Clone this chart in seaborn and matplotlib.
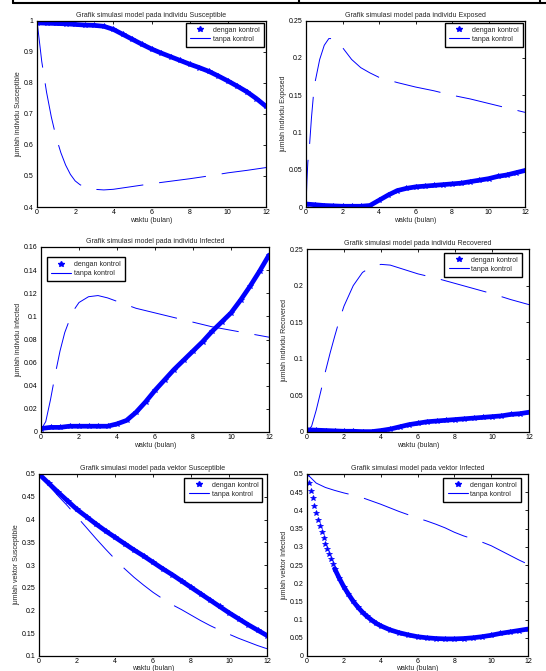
import numpy as np
import matplotlib
matplotlib.use('Agg')
import matplotlib.pyplot as plt
import seaborn as sns
from matplotlib.lines import Line2D
from matplotlib.ticker import FuncFormatter

# ---------------- data ----------------
t_half = [0, 0.5, 1, 1.5, 2, 2.5, 3, 3.5, 4, 4.5, 5, 5.5, 6, 6.5, 7, 7.5,
          8, 8.5, 9, 9.5, 10, 10.5, 11, 11.5, 12]

# individu Susceptible
sh_dk = [0.993, 0.992, 0.991, 0.99, 0.988, 0.986, 0.985, 0.982, 0.972, 0.956,
         0.94, 0.924, 0.909, 0.896, 0.884, 0.872, 0.86, 0.849, 0.837, 0.822,
         0.806, 0.789, 0.771, 0.749, 0.724]
sh_t_tk = [0, 0.25, 0.5, 0.75, 1, 1.25, 1.5, 1.75, 2, 2.25, 2.5, 3, 3.5, 4,
           5, 6, 7, 8, 9, 10, 11, 12]
sh_tk = [1.0, 0.868, 0.77, 0.69, 0.625, 0.575, 0.535, 0.505, 0.484, 0.472,
         0.464, 0.457, 0.455, 0.457, 0.466, 0.475, 0.483, 0.491, 0.5, 0.51,
         0.518, 0.527]

# individu Exposed
eh_dk = [0.004, 0.003, 0.002, 0.0015, 0.001, 0.001, 0.001, 0.002, 0.009,
         0.016, 0.022, 0.025, 0.027, 0.028, 0.029, 0.03, 0.031, 0.032, 0.034,
         0.036, 0.038, 0.041, 0.043, 0.046, 0.049]
eh_t_tk = [0, 0.05, 0.1, 0.2, 0.3, 0.4, 0.5, 0.75, 1, 1.25, 1.5, 1.75, 2, 2.5,
           3, 3.5, 4, 5, 6, 7, 8, 9, 10, 11, 12]
eh_tk = [0, 0.035, 0.06, 0.085, 0.12, 0.148, 0.168, 0.198, 0.217, 0.226,
         0.226, 0.221, 0.214, 0.198, 0.187, 0.18, 0.174, 0.167, 0.161, 0.156,
         0.15, 0.145, 0.139, 0.133, 0.127]

# individu Infected
ih_dk = [0.003, 0.004, 0.004, 0.005, 0.005, 0.005, 0.005, 0.005, 0.007, 0.01,
         0.017, 0.026, 0.036, 0.045, 0.054, 0.062, 0.07, 0.078, 0.087, 0.095,
         0.103, 0.114, 0.126, 0.139, 0.153]
ih_t_tk = [0, 0.25, 0.5, 0.75, 1, 1.25, 1.5, 1.75, 2, 2.5, 3, 3.5, 4, 5, 6, 7,
           8, 9, 10, 11, 12]
ih_tk = [0.002, 0.009, 0.028, 0.05, 0.07, 0.086, 0.097, 0.106, 0.112, 0.117,
         0.118, 0.116, 0.113, 0.107, 0.103, 0.099, 0.095, 0.091, 0.088, 0.085,
         0.082]

# individu Recovered
rh_dk = [0.003, 0.0025, 0.002, 0.0015, 0.001, 0.001, 0.0005, 0.0005, 0.002,
         0.004, 0.007, 0.01, 0.012, 0.014, 0.015, 0.016, 0.017, 0.018, 0.019,
         0.02, 0.021, 0.022, 0.024, 0.025, 0.027]
rh_t_tk = [0, 0.25, 0.5, 0.75, 1, 1.25, 1.5, 1.75, 2, 2.5, 3, 3.5, 4, 4.5, 5,
           6, 7, 8, 9, 10, 11, 12]
rh_tk = [0, 0.008, 0.03, 0.056, 0.083, 0.108, 0.131, 0.153, 0.172, 0.2, 0.218,
         0.226, 0.229, 0.228, 0.224, 0.216, 0.21, 0.203, 0.196, 0.189, 0.181,
         0.174]

# vektor Susceptible
sv_dk = [0.5, 0.48, 0.46, 0.441, 0.422, 0.406, 0.39, 0.375, 0.361, 0.347,
         0.333, 0.32, 0.306, 0.292, 0.279, 0.265, 0.251, 0.237, 0.223, 0.209,
         0.195, 0.182, 0.169, 0.157, 0.145]
sv_tk = [0.5, 0.476, 0.452, 0.43, 0.406, 0.382, 0.358, 0.335, 0.313, 0.292,
         0.273, 0.256, 0.24, 0.226, 0.213, 0.202, 0.19, 0.178, 0.167, 0.157,
         0.148, 0.139, 0.131, 0.123, 0.116]

# vektor Infected
iv_t_dk = [0, 0.1, 0.2, 0.3, 0.4, 0.5, 0.6, 0.7, 0.8, 0.9, 1.0, 1.1, 1.2, 1.3,
           1.4, 1.5, 1.75, 2, 2.25, 2.5, 2.75, 3, 3.25, 3.5, 3.75, 4, 4.5, 5,
           5.5, 6, 6.5, 7, 7.5, 8, 8.5, 9, 9.5, 10, 10.5, 11, 11.5, 12]
iv_dk = [0.5, 0.476, 0.454, 0.433, 0.413, 0.393, 0.374, 0.357, 0.341, 0.325,
         0.309, 0.294, 0.28, 0.266, 0.253, 0.24, 0.214, 0.19, 0.17, 0.151,
         0.135, 0.121, 0.109, 0.099, 0.09, 0.083, 0.072, 0.064, 0.058, 0.053,
         0.05, 0.048, 0.047, 0.047, 0.048, 0.05, 0.053, 0.057, 0.062, 0.066,
         0.07, 0.074]
iv_tk = [0.5, 0.475, 0.463, 0.455, 0.448, 0.442, 0.435, 0.426, 0.417, 0.407,
         0.397, 0.388, 0.379, 0.371, 0.362, 0.352, 0.34, 0.33, 0.322, 0.313,
         0.303, 0.29, 0.277, 0.264, 0.252]

labels = ['dengan kontrol', 'tanpa kontrol']
xticks = [0, 2, 4, 6, 8, 10, 12]

# ---------------- style ----------------
sns.set_theme(style='white')
plt.rcParams['font.family'] = ['Liberation Sans', 'DejaVu Sans']
plt.rcParams['lines.scale_dashes'] = False
BLUE = (0, 0, 1)
FS = 5
W, H = 546, 671

fig = plt.figure(figsize=(W / 100, H / 100), dpi=100)


def box(l, t, r, b):
    return [l / W, 1 - b / H, (r - l) / W, (b - t) / H]


panels = [
    dict(pos=box(37, 20.7, 266, 207), title='Grafik simulasi model pada individu Susceptible',
         ylabel='jumlah individu Susceptible', ylim=(0.4, 1.0), ystep=0.1,
         t_dk=t_half, dk=sh_dk, t_tk=sh_t_tk, tk=sh_tk, band_from=0,
         leg=dict(loc='upper right', bbox_to_anchor=(0.99, 0.99))),
    dict(pos=box(306, 20.7, 525, 207), title='Grafik simulasi model pada individu Exposed',
         ylabel='jumlah individu Exposed', ylim=(0, 0.25), ystep=0.05,
         t_dk=t_half, dk=eh_dk, t_tk=eh_t_tk, tk=eh_tk, band_from=0,
         leg=dict(loc='upper right', bbox_to_anchor=(0.99, 0.99))),
    dict(pos=box(41, 247, 269, 432), title='Grafik simulasi model pada individu Infected',
         ylabel='jumlah individu Infected', ylim=(0, 0.16), ystep=0.02,
         t_dk=t_half, dk=ih_dk, t_tk=ih_t_tk, tk=ih_tk, band_from=0,
         leg=dict(loc='upper left', bbox_to_anchor=(0.026, 0.946))),
    dict(pos=box(307, 249, 529, 432), title='Grafik simulasi model pada individu Recovered',
         ylabel='jumlah individu Recovered', ylim=(0, 0.25), ystep=0.05,
         t_dk=t_half, dk=rh_dk, t_tk=rh_t_tk, tk=rh_tk, band_from=0,
         leg=dict(loc='upper right', bbox_to_anchor=(0.97, 0.98))),
    dict(pos=box(39, 474, 267, 656), title='Grafik simulasi model pada vektor Susceptible',
         ylabel='jumlah vektor Susceptible', ylim=(0.1, 0.5), ystep=0.05,
         t_dk=t_half, dk=sv_dk, t_tk=t_half, tk=sv_tk, band_from=0,
         leg=dict(loc='upper right', bbox_to_anchor=(0.98, 0.98))),
    dict(pos=box(307, 474, 528, 656), title='Grafik simulasi model pada vektor Infected',
         ylabel='jumlah vektor Infected', ylim=(0, 0.5), ystep=0.05,
         t_dk=iv_t_dk, dk=iv_dk, t_tk=t_half, tk=iv_tk, band_from=1.5,
         leg=dict(loc='upper right', bbox_to_anchor=(0.97, 0.98))),
]

fmt = FuncFormatter(lambda v, p: '%g' % round(v, 4))

for i, p in enumerate(panels):
    ax = fig.add_axes(p['pos'])
    t_dk = np.asarray(p['t_dk'], float)
    dk = np.asarray(p['dk'], float)
    m = t_dk >= p['band_from']
    # dense marker band of the controlled solution
    sns.lineplot(x=t_dk[m], y=dk[m], ax=ax, color=BLUE, lw=3.4,
                 estimator=None, sort=False)
    sns.lineplot(x=t_dk, y=dk, ax=ax, color=BLUE, linestyle='none', marker='*',
                 markersize=4.0, mec=BLUE, mfc=BLUE, mew=0.5,
                 estimator=None, sort=False)
    # uncontrolled solution
    sns.lineplot(x=p['t_tk'], y=p['tk'], ax=ax, color=BLUE, lw=0.7,
                 linestyle=(0, (34, 11.5)), estimator=None, sort=False)

    ax.set_xlim(0, 12)
    ax.set_ylim(*p['ylim'])
    ax.set_xticks(xticks)
    y0, y1 = p['ylim']
    n = int(round((y1 - y0) / p['ystep']))
    ax.set_yticks([y0 + k * p['ystep'] for k in range(n + 1)])
    ax.yaxis.set_major_formatter(fmt)
    ax.xaxis.set_major_formatter(fmt)
    ax.tick_params(direction='in', length=2.2, width=0.6, top=True, right=True,
                   labelsize=FS, colors='black')
    ax.tick_params(axis='x', pad=1.5)
    ax.tick_params(axis='y', pad=2.5)
    for s in ax.spines.values():
        s.set_color('black')
        s.set_linewidth(0.9)
    ax.set_title(p['title'], fontsize=FS, pad=3)
    ax.set_xlabel('waktu (bulan)', fontsize=FS, labelpad=0.3 if i >= 4 else 1)
    ax.set_ylabel(p['ylabel'], fontsize=FS, labelpad=1)

    h1 = Line2D([], [], color=BLUE, marker='*', linestyle='none', markersize=3.8,
                mec=BLUE, mfc=BLUE)
    h2 = Line2D([], [], color=BLUE, lw=0.8)
    leg = ax.legend([h1, h2], labels, fontsize=FS, frameon=True, fancybox=False,
                    edgecolor='black', framealpha=1, borderpad=0.6,
                    labelspacing=0.3, handlelength=2.9, handletextpad=0.4,
                    borderaxespad=0, **p['leg'])
    leg.get_frame().set_linewidth(1.0)

# top border fragment of the surrounding table
yb = 1 - 3.3 / H
fig.add_artist(Line2D([13 / W, 1.0], [yb, yb], transform=fig.transFigure,
                      color='black', lw=1.5))
for xv in (13, 299, 540):
    fig.add_artist(Line2D([xv / W, xv / W], [yb, 1.0], transform=fig.transFigure,
                          color='black', lw=1.5))

fig.savefig('out.png', dpi=100)
